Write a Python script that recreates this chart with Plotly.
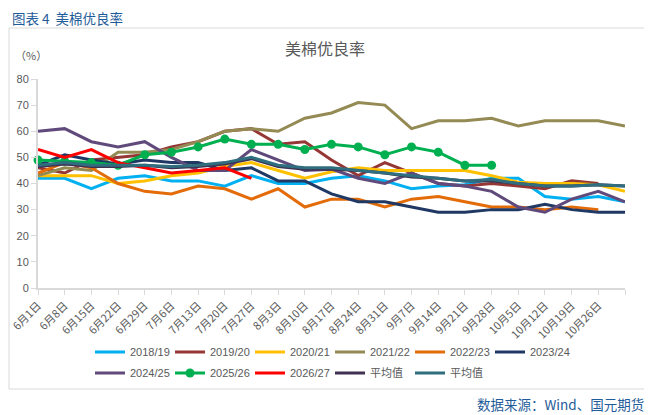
import plotly.graph_objects as go

# categories (last slot has no label)
dates = ['6月1日', '6月8日', '6月15日', '6月22日', '6月29日', '7月6日', '7月13日', '7月20日',
         '7月27日', '8月3日', '8月10日', '8月17日', '8月24日', '8月31日', '9月7日', '9月14日',
         '9月21日', '9月28日', '10月5日', '10月12日', '10月19日', '10月26日', '']

# good/excellent ratio, %
s2018 = [42, 42, 38, 42, 43, 41, 41, 39, 43, 40, 40, 42, 43, 41, 38, 39, 39.5, 42, 42, 35, 34, 35, 33]
s2019 = [46, 44, 49, 50, 51, 54, 56, 60, 61, 55, 56, 49, 43, 48, 44, 40, 39, 40, 39, 38, 41, 40]
s2020 = [43, 43, 43, 40, 41, 43, 44, 46.5, 48, 45, 42, 44.5, 46, 45, 45, 45, 45, 43, 40.5, 40, 40, 39.5, 37]
s2021 = [43, 46, 45, 52, 52, 53, 56, 60, 61, 60, 65, 67, 71, 70, 61, 64, 64, 65, 62, 64, 64, 64, 62]
s2022 = [44, 48, 46, 40, 37, 36, 39, 38, 34, 38, 31, 34, 34, 31, 34, 35, 33, 31, 31, 30, 31, 30]
s2023 = [47, 51, 49, 47.5, 49, 48, 48, 45, 46, 41, 41, 36, 33, 33, 31, 29, 29, 30, 30, 32, 30, 29, 29]
s2024 = [60, 61, 56, 54, 56, 50, 45, 45, 53, 49, 45, 45.5, 42, 40, 44, 40, 39, 37, 31, 29, 34, 37, 33]
s2025 = [49, 48.5, 48, 47, 51, 52, 54, 57, 55, 55, 53, 55, 54, 51, 54, 52, 47, 47]
s2026 = [53, 50, 53, 48, 46, 44, 45, 46, 42]
avg_a = [46.5, 47.5, 46.5, 46.5, 47, 46, 46.5, 47.5, 49.5, 46.5, 45.5, 45.5, 45, 44, 42.5, 42, 41, 41, 40, 39, 39, 39.5, 39]
avg_b = [47, 48, 47, 47, 47, 46.5, 47, 48, 50, 47, 46, 46, 45, 44, 43, 42, 41, 41.5, 40, 39, 39, 39.5, 39]

names = ['2018/19', '2019/20', '2020/21', '2021/22', '2022/23', '2023/24',
         '2024/25', '2025/26', '2026/27', '平均值', '平均值']
series = [s2018, s2019, s2020, s2021, s2022, s2023, s2024, s2025, s2026, avg_a, avg_b]
colors = ['#00b0f0', '#953735', '#ffc000', '#948a54', '#e36c09', '#1f3864',
          '#604a7b', '#00b050', '#ff0000', '#403152', '#2f6e7e']

# page body has an 8px margin, so the figure is shrunk by that much
O = 8
W, H = 652 - O, 415 - O
L, R, T, B = 38, 625, 79, 288  # plot area in screen pixels


def px(x):
    return (x - L) / (R - L)


def py(y):
    return (B - y) / (B - T)


grey = '#595959'
cjk = 'Noto Sans CJK SC'
latin = 'Liberation Sans, Noto Sans CJK SC'

fig = go.Figure()
for i in range(len(series)):
    ys = series[i]
    is_green = names[i] == '2025/26'
    fig.add_trace(go.Scatter(
        x=list(range(len(ys))),
        y=ys,
        name=names[i],
        mode='lines+markers' if is_green else 'lines',
        line=dict(color=colors[i], width=3),
        marker=dict(size=9, color=colors[i]),
        cliponaxis=False,
        legend='legend' if i < 6 else 'legend2',
    ))

leg = dict(
    orientation='h', xanchor='left', yanchor='middle',
    entrywidth=35, entrywidthmode='pixels', itemwidth=30,
    font=dict(size=11, color=grey), bgcolor='rgba(0,0,0,0)',
)

fig.update_layout(
    width=W, height=H,
    margin=dict(l=L - O, r=W - (R - O), t=T - O, b=H - (B - O), autoexpand=False),
    paper_bgcolor='white',
    plot_bgcolor='white',
    font=dict(family=latin, size=11, color=grey),
    xaxis=dict(
        range=[0, len(dates) - 1],
        tickmode='array',
        tickvals=list(range(len(dates))),
        ticktext=dates,
        tickangle=-45,
        tickfont=dict(family=cjk, size=11, color=grey),
        showgrid=False, zeroline=False,
        showline=True, linecolor='#d9d9d9', linewidth=2,
        ticks='outside', ticklen=5, tickcolor='#d9d9d9',
    ),
    yaxis=dict(
        range=[0, 80],
        dtick=10,
        tickfont=dict(size=11, color=grey),
        showgrid=False, zeroline=False,
        showline=True, linecolor='#d9d9d9', linewidth=2,
        ticks='outside', ticklen=5, tickcolor='#d9d9d9',
    ),
    legend=dict(leg, x=px(90), y=py(352)),
    legend2=dict(leg, x=px(90), y=py(373)),
    shapes=[dict(
        type='rect', xref='paper', yref='paper',
        x0=px(9), x1=px(645), y0=py(389), y1=py(28),
        line=dict(color='#d9d9d9', width=1), layer='below',
    )],
    annotations=[
        dict(text='图表 4  美棉优良率', xref='paper', yref='paper', x=px(10), y=py(18),
             xanchor='left', yanchor='middle', showarrow=False,
             font=dict(family=cjk, size=13.5, color='#1f5c99')),
        dict(text='美棉优良率', xref='paper', yref='paper', x=px(325), y=py(48),
             xanchor='center', yanchor='middle', showarrow=False,
             font=dict(family=cjk, size=16, color=grey)),
        dict(text='（%）', xref='paper', yref='paper', x=px(13), y=py(55),
             xanchor='left', yanchor='middle', showarrow=False,
             font=dict(family=cjk, size=11, color=grey)),
        dict(text='数据来源：Wind、国元期货', xref='paper', yref='paper', x=px(646), y=py(404),
             xanchor='right', yanchor='middle', showarrow=False,
             font=dict(family=cjk, size=13.5, color='#1f5c99')),
    ],
)

fig.write_html('out.html')
